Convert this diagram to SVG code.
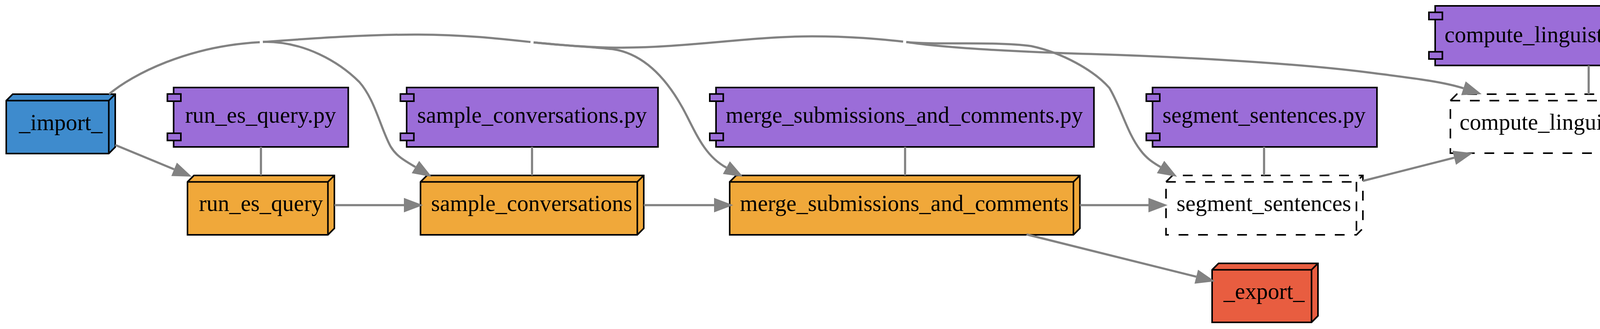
<svg xmlns="http://www.w3.org/2000/svg" width="4475" height="842" viewBox="0 0 4475 842">
<style>
.lbl{font-family:"Liberation Serif","Times New Roman",serif;font-size:58.33px;text-anchor:middle;fill:#000}
.nd{stroke:#000;stroke-width:4;stroke-linejoin:miter}
.dash{fill:#fff;stroke:#000;stroke-width:4;stroke-dasharray:25 25}
.dashin{fill:none;stroke:#000;stroke-width:4;stroke-dasharray:25 25}
.in{fill:none;stroke:#000;stroke-width:4}
.py{fill:#9b6dd8}
.step{fill:#f0a83a}
.e{fill:none;stroke:#828282;stroke-width:5.5}
.ea{fill:none;stroke:#828282;stroke-width:5.5;marker-end:url(#ah)}
</style>
<defs>
<marker id="ah" markerUnits="userSpaceOnUse" markerWidth="50" markerHeight="40" refX="0" refY="20" orient="auto" overflow="visible">
<path d="M0,1.5 L49,20 L0,38.5 Z" fill="#828282"/>
</marker>
</defs>
<rect width="4475" height="842" fill="#fff"/>

<g id="node-import">
<path class="nd" fill="#3e8bcd" d="M16,257.5 L32.5,241 L295,241 L295,376.5 L278.5,393 L16,393 Z"/>
<path class="in" d="M16,257.5 L278.5,257.5 L295,241 M278.5,257.5 L278.5,393"/>
<text class="lbl" x="155.5" y="332.5">_import_</text>
</g>

<g id="node-run_es_query_py">
<rect class="nd py" x="444.5" y="224" width="447" height="152"/>
<rect class="nd py" x="428.5" y="240.5" width="34.5" height="18.5"/>
<rect class="nd py" x="428.5" y="341" width="34.5" height="18.5"/>
<text class="lbl" x="667" y="314">run_es_query.py</text>
</g>

<g id="node-run_es_query">
<path class="nd step" d="M480,465.5 L496.5,449 L856,449 L856,584.5 L839.5,601 L480,601 Z"/>
<path class="in" d="M480,465.5 L839.5,465.5 L856,449 M839.5,465.5 L839.5,601"/>
<text class="lbl" x="668" y="539.5">run_es_query</text>
</g>

<g id="node-sample_conversations_py">
<rect class="nd py" x="1041" y="224" width="643.5" height="152"/>
<rect class="nd py" x="1025" y="240.5" width="34.5" height="18.5"/>
<rect class="nd py" x="1025" y="341" width="34.5" height="18.5"/>
<text class="lbl" x="1362" y="314">sample_conversations.py</text>
</g>

<g id="node-sample_conversations">
<path class="nd step" d="M1076.5,465.5 L1093,449 L1648,449 L1648,584.5 L1631.5,601 L1076.5,601 Z"/>
<path class="in" d="M1076.5,465.5 L1631.5,465.5 L1648,449 M1631.5,465.5 L1631.5,601"/>
<text class="lbl" x="1361" y="539.5">sample_conversations</text>
</g>

<g id="node-merge_submissions_and_comments_py">
<rect class="nd py" x="1833" y="224" width="967.5" height="152"/>
<rect class="nd py" x="1817" y="240.5" width="34.5" height="18.5"/>
<rect class="nd py" x="1817" y="341" width="34.5" height="18.5"/>
<text class="lbl" x="2315" y="314">merge_submissions_and_comments.py</text>
</g>

<g id="node-merge_submissions_and_comments">
<path class="nd step" d="M1868,465.5 L1884.5,449 L2764.5,449 L2764.5,584.5 L2748,601 L1868,601 Z"/>
<path class="in" d="M1868,465.5 L2748,465.5 L2764.5,449 M2748,465.5 L2748,601"/>
<text class="lbl" x="2315" y="539.5">merge_submissions_and_comments</text>
</g>

<g id="node-segment_sentences_py">
<rect class="nd py" x="2950.5" y="224" width="574.5" height="152"/>
<rect class="nd py" x="2934.5" y="240.5" width="34.5" height="18.5"/>
<rect class="nd py" x="2934.5" y="341" width="34.5" height="18.5"/>
<text class="lbl" x="3236" y="314">segment_sentences.py</text>
</g>

<g id="node-segment_sentences">
<path class="dash" d="M2985,465.5 L3001.5,449 L3489,449 L3489,584.5 L3472.5,601 L2985,601 Z"/>
<path class="dashin" d="M2985,465.5 L3472.5,465.5 L3489,449 M3472.5,465.5 L3472.5,601"/>
<text class="lbl" x="3235.5" y="539.5">segment_sentences</text>
</g>

<g id="node-export">
<path class="nd" fill="#e85d40" d="M3103,690.5 L3119.5,674 L3374,674 L3374,808.5 L3357.5,825 L3103,825 Z"/>
<path class="in" d="M3103,690.5 L3357.5,690.5 L3374,674 M3357.5,690.5 L3357.5,825"/>
<text class="lbl" x="3236" y="765">_export_</text>
</g>

<g id="node-compute_linguistic_features_py">
<rect class="nd py" x="3674" y="15" width="785" height="152.5"/>
<rect class="nd py" x="3658" y="31.5" width="34.5" height="18.5"/>
<rect class="nd py" x="3658" y="132.5" width="34.5" height="18.5"/>
<text class="lbl" x="4065" y="107.5">compute_linguistic_features.py</text>
</g>

<g id="node-compute_linguistic_features">
<path class="dash" d="M3713,257.5 L3729.5,241 L4420,241 L4420,375.5 L4403.5,392 L3713,392 Z"/>
<path class="dashin" d="M3713,257.5 L4403.5,257.5 L4420,241 M4403.5,257.5 L4403.5,392"/>
<text class="lbl" x="4067" y="331.5">compute_linguistic_features</text>
</g>

<g id="connectors">
<line class="e" x1="668" y1="376" x2="668" y2="449"/>
<line class="e" x1="1362" y1="376" x2="1362" y2="449"/>
<line class="e" x1="2317" y1="376" x2="2317" y2="449"/>
<line class="e" x1="3236" y1="376" x2="3236" y2="449"/>
<line class="e" x1="4067" y1="167.5" x2="4067" y2="241"/>

<path class="ea" d="M295,371 L445.7,433.3"/>
<path class="ea" d="M856,525 L1034,525"/>
<path class="ea" d="M1648,525 L1828,525"/>
<path class="ea" d="M2764.5,525 L2940,525"/>
<path class="ea" d="M2628,600 L3062.5,708.1"/>
<path class="ea" d="M3489,463 L3722.8,403.7"/>

<path class="e" d="M279,241 C340,190 480,118 665,108"/>
<path class="e" d="M673,107.5 C800,98 940,88 1071,88.5 C1190,89 1280,99 1358,107.5"/>
<path class="ea" d="M673,107 C780,105 870,160 920,210 C960,255 975,330 1000,375 C1015,400 1036,411 1063.5,427.5"/>
<path class="e" d="M1366,108.5 C1450,117 1520,122 1592,122 C1760,122 1920,93 2079,93 C2180,93 2250,100 2312,106.5"/>
<path class="ea" d="M1366,108.5 C1460,118 1530,121 1570,126 C1660,140 1720,220 1760,300 C1790,360 1812,403 1859.5,429"/>
<path class="ea" d="M2320,107.5 C2400,116 2540,105 2640,118 C2720,135 2800,180 2840,225 C2870,275 2885,340 2920,385 C2935,405 2950,415 2971,427.4"/>
<path class="ea" d="M2320,107.5 C2400,120 2550,130 2750,137 C3000,144 3300,160 3500,185 C3600,198 3690,207.6 3746.4,225.9"/>
</g>
</svg>
